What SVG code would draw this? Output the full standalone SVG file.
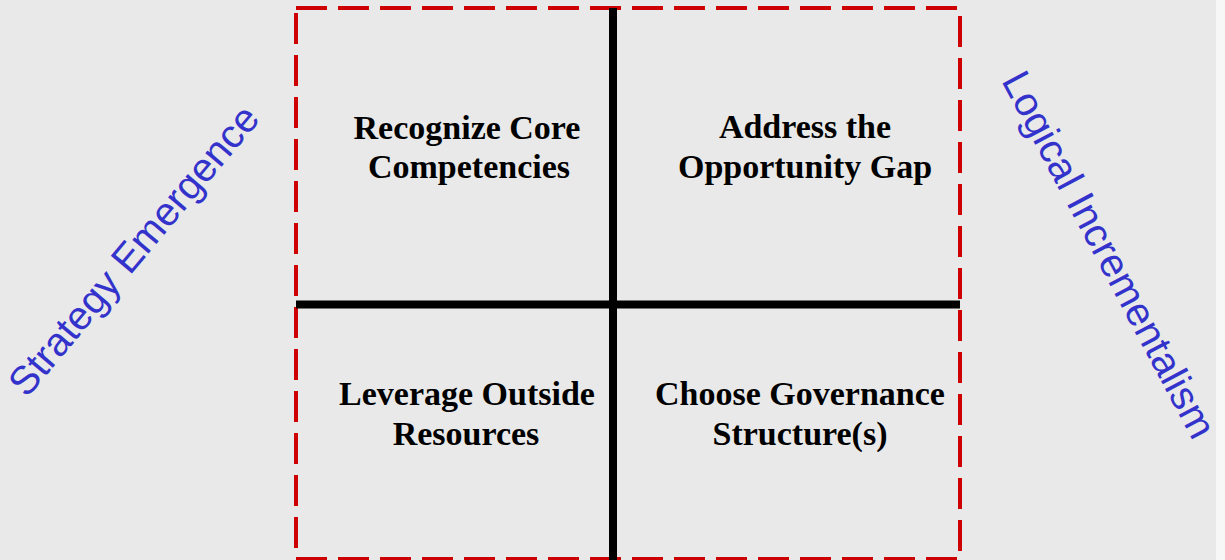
<svg xmlns="http://www.w3.org/2000/svg" width="1225" height="560" viewBox="0 0 1225 560">
<style>
.q{font-family:"Liberation Serif","Times New Roman",serif;font-weight:bold;font-size:34px;fill:#000;text-anchor:middle}
.side{font-family:"Liberation Sans",Arial,sans-serif;font-size:40px;fill:#3333CC;text-anchor:middle}
.frame{fill:none;stroke:#CC0000;stroke-width:4;stroke-dasharray:31 11}
.cross{stroke:#000;stroke-width:8;fill:none}
</style>
<rect x="0" y="0" width="1225" height="560" fill="#E9E9E9"/>
<rect x="1216" y="0" width="9" height="560" fill="#F7F7F7"/>
<g id="frame"><rect class="frame" x="296" y="8" width="664" height="551"/></g>
<g id="connectors">
<line class="cross" x1="613" y1="8" x2="613" y2="560"/>
<line class="cross" x1="296" y1="304.5" x2="960" y2="304.5"/>
</g>
<g id="recognize"><text class="q" x="467" y="139">Recognize Core</text><text class="q" x="469" y="178">Competencies</text></g>
<g id="address"><text class="q" x="805" y="138">Address the</text><text class="q" x="805" y="178">Opportunity Gap</text></g>
<g id="leverage"><text class="q" x="467" y="405">Leverage Outside</text><text class="q" x="466" y="445">Resources</text></g>
<g id="choose"><text class="q" x="800" y="405">Choose Governance</text><text class="q" x="800" y="445">Structure(s)</text></g>
<g id="strategy-emergence"><text class="side" transform="translate(144,259) rotate(-50)">Strategy Emergence</text></g>
<g id="logical-incrementalism"><text class="side" transform="translate(1097,261) rotate(62)">Logical Incrementalism</text></g>
</svg>
